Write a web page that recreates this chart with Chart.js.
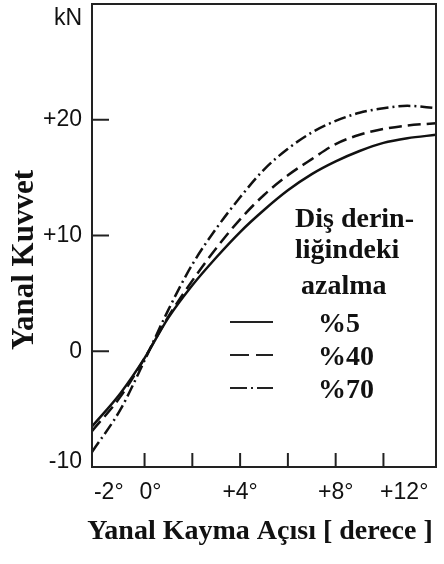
<!DOCTYPE html>
<html>
<head>
<meta charset="utf-8">
<script src="https://cdn.jsdelivr.net/npm/chart.js@4"></script>
<style>
  html, body { margin: 0; padding: 0; background: #fff; }
  #wrap { width: 444px; height: 564px; }
</style>
</head>
<body>
<div id="wrap"><canvas id="myChart" width="444" height="564"></canvas></div>
<script>
// slip angle (degrees) and lateral force (kN) per tread depth reduction
const slipAngles = [-2.2, -1, 0, 1, 2, 3, 4, 5, 6, 7, 8, 9, 10, 11, 12.2]
const force5 = [-6.5, -3.6, -0.6, 2.9, 5.7, 8.1, 10.3, 12.2, 13.9, 15.3, 16.4, 17.3, 18.0, 18.4, 18.7]
const force40 = [-6.9, -3.9, -0.6, 3.0, 6.1, 8.9, 11.4, 13.5, 15.2, 16.6, 17.9, 18.7, 19.2, 19.5, 19.7]
const force70 = [-8.7, -5.0, -0.8, 3.6, 7.5, 10.6, 13.3, 15.7, 17.5, 18.9, 19.9, 20.6, 21.0, 21.2, 21.0]

const seriesNames = ['%5', '%40', '%70']
const xTicks = [-2, 0, 2, 4, 6, 8, 10, 12]
const xTickLabels = { '-2': '-2°', '0': '0°', '4': '+4°', '8': '+8°', '12': '+12°' }
const yTicks = [-10, 0, 10, 20]
const yTickLabels = { '-10': '-10', '0': '0', '10': '+10', '20': '+20' }

const dashes = [[], [13, 6], [12, 4, 2, 4]]
const legendDashes = [[], [19, 7], [17, 4, 2, 4]]
const serif = 'bold 28px "Liberation Serif"'
const sans = '23px "Liberation Sans"'

const toPoints = (ys) => slipAngles.map((x, i) => ({ x: x, y: ys[i] }))

const decor = {
  id: 'decor',
  afterDraw(chart) {
    const c = chart.ctx
    const a = chart.chartArea
    const xs = chart.scales.x
    const ys = chart.scales.y
    c.save()
    c.strokeStyle = '#222'
    c.fillStyle = '#111'

    // frame
    c.lineWidth = 2
    c.strokeRect(a.left, a.top, a.right - a.left, a.bottom - a.top)

    // inner tick marks
    xTicks.forEach(v => {
      if (v <= -2 || v >= 12) return
      const px = xs.getPixelForValue(v)
      c.beginPath(); c.moveTo(px, a.bottom); c.lineTo(px, a.bottom - 14); c.stroke()
    })
    yTicks.forEach(v => {
      if (v <= -10) return
      const py = ys.getPixelForValue(v)
      c.beginPath(); c.moveTo(a.left, py); c.lineTo(a.left + 17, py); c.stroke()
    })

    // tick labels
    c.font = sans
    c.textBaseline = 'middle'
    c.textAlign = 'right'
    yTicks.forEach(v => {
      let py = ys.getPixelForValue(v)
      if (v === -10) py -= 5
      c.fillText(yTickLabels[v], a.left - 10, py)
    })
    c.fillText('kN', a.left - 10, 19)
    c.textAlign = 'center'
    Object.keys(xTickLabels).forEach(k => {
      const v = Number(k)
      let px = xs.getPixelForValue(v) + 6
      if (v === -2) px = xs.getPixelForValue(v) + 12
      if (v === 12) px = xs.getPixelForValue(v) - 27
      if (v === 4 || v === 8) px -= 6
      c.fillText(xTickLabels[k], px, a.bottom + 26)
    })

    // axis titles
    c.font = serif
    c.textBaseline = 'alphabetic'
    c.fillText('Yanal Kayma Açısı [ derece ]', 260, 539)
    c.save()
    c.translate(33, 260)
    c.rotate(-Math.PI / 2)
    c.font = 'bold 31px "Liberation Serif"'
    c.fillText('Yanal Kuvvet', 0, 0)
    c.restore()

    // legend
    c.font = serif
    c.textAlign = 'left'
    c.fillText('Diş derin-', 295, 227)
    c.fillText('liğindeki', 295, 258)
    c.fillText('azalma', 301, 294)
    const rows = [322, 355, 388]
    seriesNames.forEach((name, i) => {
      c.setLineDash(legendDashes[i])
      c.lineWidth = 2
      c.beginPath(); c.moveTo(230, rows[i]); c.lineTo(273, rows[i]); c.stroke()
      c.setLineDash([])
      c.fillText(name, 318, rows[i] + 10)
    })
    c.restore()
  }
}

new Chart(document.getElementById('myChart'), {
  type: 'line',
  data: {
    datasets: [force5, force40, force70].map((ys, i) => ({
      label: seriesNames[i],
      data: toPoints(ys),
      borderColor: '#111',
      borderWidth: 2.5,
      borderDash: dashes[i],
      pointRadius: 0,
      fill: false,
      cubicInterpolationMode: 'monotone'
    }))
  },
  options: {
    responsive: false,
    animation: false,
    layout: { padding: { left: 92, top: 4, right: 8, bottom: 97 } },
    plugins: { legend: { display: false }, tooltip: { enabled: false } },
    scales: {
      x: {
        type: 'linear',
        min: -2.2,
        max: 12.2,
        afterBuildTicks: (s) => { s.ticks = xTicks.map(v => ({ value: v })) },
        ticks: { display: false },
        grid: { display: false, drawTicks: false },
        border: { display: false }
      },
      y: {
        min: -10,
        max: 30,
        afterBuildTicks: (s) => { s.ticks = yTicks.map(v => ({ value: v })) },
        ticks: { display: false },
        grid: { display: false, drawTicks: false },
        border: { display: false }
      }
    }
  },
  plugins: [decor]
})
</script>
</body>
</html>
